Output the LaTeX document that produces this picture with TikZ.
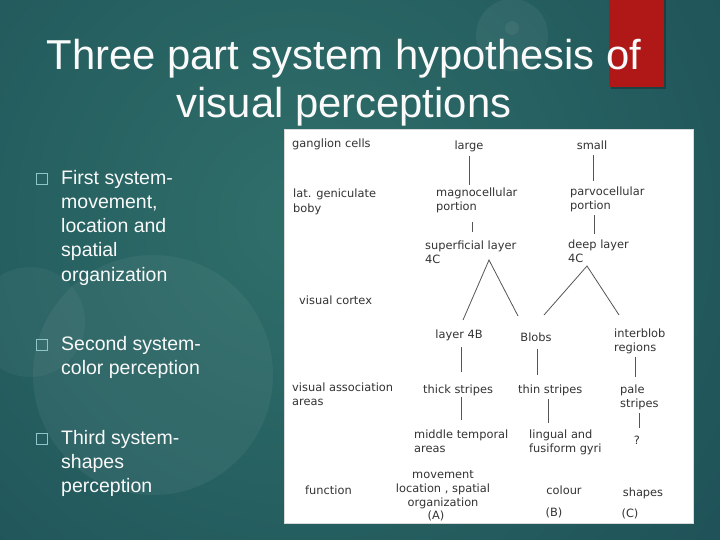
\documentclass[tikz,border=0pt]{standalone}
\usepackage{fontspec}
\setmainfont{Liberation Sans}
\newfontfamily\pfont{DejaVu Sans}
\definecolor{bgdark}{HTML}{133E4C}
\definecolor{bglight}{HTML}{2F6F6A}
\definecolor{redbar}{HTML}{B01818}
\definecolor{txtgray}{HTML}{333333}
\definecolor{bulletc}{HTML}{8FC6CA}
\definecolor{linec}{HTML}{555555}
\begin{document}
\begin{tikzpicture}[x=1pt,y=-1pt,
  titletxt/.style={font=\fontsize{41.8}{48}\selectfont, text=white!96!gray, inner sep=0pt, anchor=base},
  btxt/.style={font=\fontsize{19.5}{24.3}\selectfont, text=white!95!gray, inner sep=0pt, align=left, anchor=base west},
  bbox/.style={draw=bulletc, line width=0.9pt, minimum size=11pt, inner sep=0pt},
  lbl/.style={font=\pfont\fontsize{11.4}{14}\selectfont, text=txtgray, inner sep=0pt, align=left, anchor=base west},
  clbl/.style={lbl, anchor=base, align=center},
  conn/.style={draw=linec, line width=0.8pt}]
\useasboundingbox (0,0) rectangle (720,540);
% background
\fill[bgdark] (0,0) rectangle (720,540);
\begin{scope}
  \clip (0,0) rectangle (720,540);
  \shade[inner color=bglight, outer color=bgdark] (300,220) circle (900);
  \fill[white, opacity=0.05] (153,375) circle (120);
  \fill[white, opacity=0.04] (30,322) circle (55);
  \fill[white, opacity=0.05] (512,35) circle (36);
  \fill[white, opacity=0.06] (512,28) circle (7);
\end{scope}
% red bar
\fill[black, opacity=0.25] (611,0) rectangle (666,89);
\fill[redbar] (609,0) rectangle (664,87);
% title
\node[titletxt] (t1) at (344,70) {Three part system hypothesis of};
\node[titletxt] (t2) at (344,118) {visual perceptions};
% bullets (base anchor = baseline of the last line)
\node[bbox] (q1) at (41.5,178.5) {};
\node[bbox] (q2) at (41.5,344.5) {};
\node[bbox] (q3) at (41.5,438.5) {};
\node[btxt] (b1) at (61,281.2) {First system-\\movement,\\location and\\spatial\\organization};
\node[btxt] (b2) at (61,374.3) {Second system-\\color perception};
\node[btxt] (b3) at (61,492.6) {Third system-\\shapes\\perception};
% panel
\fill[white] (284,129) rectangle (693,523);
\draw[black!15, line width=0.5pt] (284,129) rectangle (693,523);
% row labels
\node[lbl] (gc) at (292,148) {ganglion cells};
\node[lbl] (lgb) at (293,212) {lat. geniculate\\boby};
\node[lbl] (vc) at (299,304) {visual cortex};
\node[lbl] (vaa) at (292,405) {visual association\\areas};
\node[lbl] (fn) at (305,494) {function};
% tree labels
\node[clbl] (large) at (469,150) {large};
\node[clbl] (small) at (592,150) {small};
\node[lbl] (magno) at (436,211) {magnocellular\\portion};
\node[lbl] (parvo) at (570,210) {parvocellular\\portion};
\node[lbl] (sup) at (425,263) {superficial layer\\4C};
\node[lbl] (deep) at (568,262) {deep layer\\4C};
\node[clbl] (l4b) at (459,338) {layer 4B};
\node[clbl] (blobs) at (536,341) {Blobs};
\node[lbl] (inter) at (614,351) {interblob\\regions};
\node[lbl] (thick) at (423,393) {thick stripes};
\node[lbl] (thin) at (518,393) {thin stripes};
\node[lbl] (pale) at (620,407) {pale\\stripes};
\node[lbl] (mta) at (414,452) {middle temporal\\areas};
\node[lbl] (lfg) at (529,452) {lingual and\\fusiform gyri};
\node[clbl] (qm) at (637,444) {?};
\node[clbl] (fa) at (443,506) {movement\\location , spatial\\organization};
\node[clbl] (la) at (436,519) {(A)};
\node[clbl] (fb) at (564,494) {colour};
\node[clbl] (lb) at (554,516) {(B)};
\node[clbl] (fc) at (643,496) {shapes};
\node[clbl] (lc) at (630,517) {(C)};
% connector end points
\coordinate (c1a) at (469,156); \coordinate (c1b) at (469,185);
\coordinate (c2a) at (593,155); \coordinate (c2b) at (593,181);
\coordinate (c3a) at (472,222); \coordinate (c3b) at (472,232);
\coordinate (c4a) at (594,215); \coordinate (c4b) at (594,234);
\coordinate (supapex) at (489,260);
\coordinate (supL) at (463,320); \coordinate (supR) at (518,316);
\coordinate (deepapex) at (587,266);
\coordinate (deepL) at (544,315); \coordinate (deepR) at (619,315);
\coordinate (c5a) at (461,347); \coordinate (c5b) at (461,372);
\coordinate (c6a) at (537,349); \coordinate (c6b) at (537,375);
\coordinate (c7a) at (635,357); \coordinate (c7b) at (635,377);
\coordinate (c8a) at (461,397); \coordinate (c8b) at (461,420);
\coordinate (c9a) at (548,399); \coordinate (c9b) at (548,423);
\coordinate (c10a) at (639,413); \coordinate (c10b) at (639,428);
% connectors
\draw[conn] (c1a) -- (c1b);
\draw[conn] (c2a) -- (c2b);
\draw[conn] (c3a) -- (c3b);
\draw[conn] (c4a) -- (c4b);
\draw[conn] (supL) -- (supapex) -- (supR);
\draw[conn] (deepL) -- (deepapex) -- (deepR);
\draw[conn] (c5a) -- (c5b);
\draw[conn] (c6a) -- (c6b);
\draw[conn] (c7a) -- (c7b);
\draw[conn] (c8a) -- (c8b);
\draw[conn] (c9a) -- (c9b);
\draw[conn] (c10a) -- (c10b);
\end{tikzpicture}
\end{document}
